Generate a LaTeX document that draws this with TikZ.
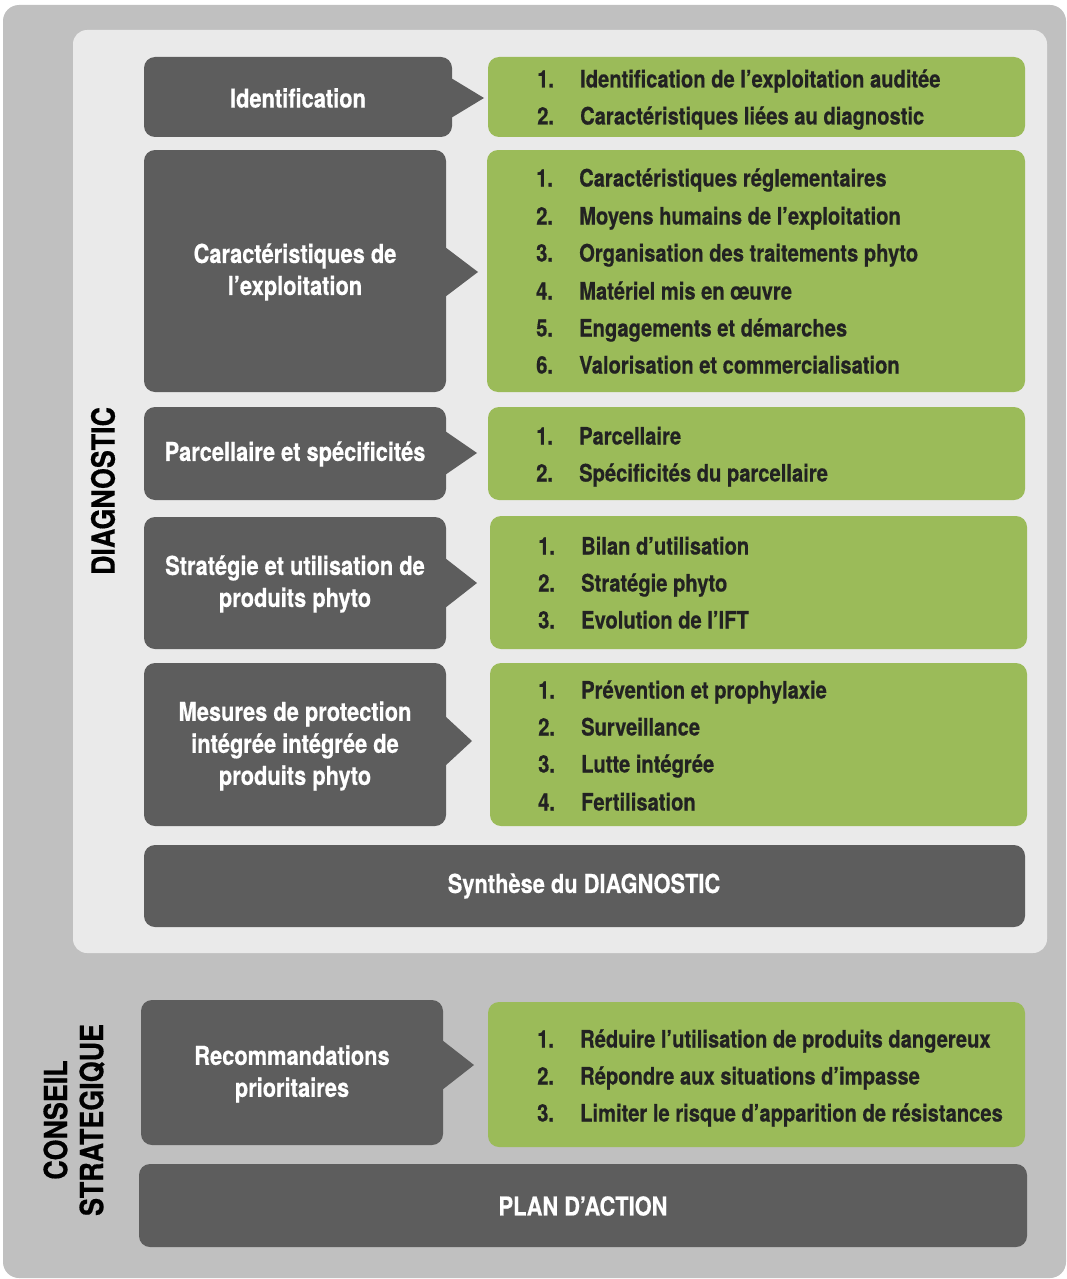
\documentclass[tikz,border=0pt]{standalone}
\usepackage{fontspec}
\setmainfont{TeX Gyre Heros}
\newfontfamily\cf[FakeStretch=0.84,FakeBold=0.5]{TeX Gyre Heros}
\definecolor{bgout}{HTML}{C0C0C0}
\definecolor{bgin}{HTML}{EAEAEA}
\definecolor{dark}{HTML}{5D5D5D}
\definecolor{grn}{HTML}{9BBB59}
\definecolor{txt}{HTML}{222222}
\tikzset{
  darkbox/.style={fill=dark, rounded corners=11pt},
  grnbox/.style={fill=grn, rounded corners=11pt},
  dtext/.style={text=white, font=\cf\bfseries\fontsize{26}{32}\selectfont, align=center},
  itm/.style={text=txt, font=\cf\bfseries\fontsize{24}{28}\selectfont, anchor=base west, inner sep=0pt},
  tip/.style={fill=dark},
  side/.style={text=black, font=\cf\bfseries\fontsize{32}{36}\selectfont, rotate=90, align=center}
}
\newcommand{\itm}[5]{\node[itm] (#1) at (#2,#3+8.5) {\makebox[43pt][l]{#4}#5};}
\begin{document}
\begin{tikzpicture}[x=1pt,y=-1pt]
\useasboundingbox (0,0) rectangle (1067,1279);
\fill[white] (0,0) rectangle (1067,1279);
\fill[bgout, rounded corners=16pt] (3,5) rectangle (1066,1278);
\fill[bgin, rounded corners=14pt] (73,30) rectangle (1047,953);

% Row 1
\fill[darkbox] (144,57) rectangle (452,137);
\fill[tip] (451,78) -- (484,98) -- (451,118) -- cycle;
\node[dtext] (d1) at (298,98) {Identification};
\fill[grnbox] (488,57) rectangle (1025,137);
\itm{i11}{537}{79}{1.}{Identification de l’exploitation auditée}
\itm{i12}{537}{116}{2.}{Caractéristiques liées au diagnostic}

% Row 2
\fill[darkbox] (144,150) rectangle (446,392);
\fill[tip] (445,247) -- (478,272) -- (445,297) -- cycle;
\node[dtext] (d2) at (295,272) {Caractéristiques de\\l’exploitation};
\fill[grnbox] (487,150) rectangle (1025,392);
\itm{i21}{536}{178}{1.}{Caractéristiques réglementaires}
\itm{i22}{536}{216}{2.}{Moyens humains de l’exploitation}
\itm{i23}{536}{253}{3.}{Organisation des traitements phyto}
\itm{i24}{536}{291}{4.}{Matériel mis en œuvre}
\itm{i25}{536}{328}{5.}{Engagements et démarches}
\itm{i26}{536}{365}{6.}{Valorisation et commercialisation}

% Row 3
\fill[darkbox] (144,407) rectangle (446,500);
\fill[tip] (445,431) -- (477,453) -- (445,475) -- cycle;
\node[dtext] (d3) at (295,454) {Parcellaire et spécificités};
\fill[grnbox] (488,407) rectangle (1025,500);
\itm{i31}{536}{436}{1.}{Parcellaire}
\itm{i32}{536}{473}{2.}{Spécificités du parcellaire}

% Row 4
\fill[darkbox] (144,517) rectangle (446,649);
\fill[tip] (445,558) -- (477,583) -- (445,608) -- cycle;
\node[dtext] (d4) at (295,584) {Stratégie et utilisation de\\produits phyto};
\fill[grnbox] (490,516) rectangle (1027,649);
\itm{i41}{538}{546}{1.}{Bilan d’utilisation}
\itm{i42}{538}{583}{2.}{Stratégie phyto}
\itm{i43}{538}{620}{3.}{Evolution de l’IFT}

% Row 5
\fill[darkbox] (144,663) rectangle (446,826);
\fill[tip] (445,716) -- (472,741) -- (445,766) -- cycle;
\node[dtext] (d5) at (295,746) {Mesures de protection\\intégrée intégrée de\\produits phyto};
\fill[grnbox] (490,663) rectangle (1027,826);
\itm{i51}{538}{690}{1.}{Prévention et prophylaxie}
\itm{i52}{538}{727}{2.}{Surveillance}
\itm{i53}{538}{764}{3.}{Lutte intégrée}
\itm{i54}{538}{802}{4.}{Fertilisation}

% Synthese
\fill[darkbox] (144,845) rectangle (1025,927);
\node[dtext] (syn) at (584,886) {Synthèse du DIAGNOSTIC};

% Conseil
\fill[darkbox] (141,1000) rectangle (443,1145);
\fill[tip] (442,1040) -- (474,1065) -- (442,1090) -- cycle;
\node[dtext] (d6) at (292,1074) {Recommandations\\prioritaires};
\fill[grnbox] (488,1002) rectangle (1025,1147);
\itm{i61}{537}{1039}{1.}{Réduire l’utilisation de produits dangereux}
\itm{i62}{537}{1076}{2.}{Répondre aux situations d’impasse}
\itm{i63}{537}{1113}{3.}{Limiter le risque d’apparition de résistances}

\fill[darkbox] (139,1164) rectangle (1027,1247);
\node[dtext] (plan) at (583,1206) {PLAN D’ACTION};

% Side labels
\node[side] (diag) at (103,491) {DIAGNOSTIC};
\node[side] (cons) at (74,1120) {CONSEIL\\STRATEGIQUE};
\end{tikzpicture}
\end{document}
